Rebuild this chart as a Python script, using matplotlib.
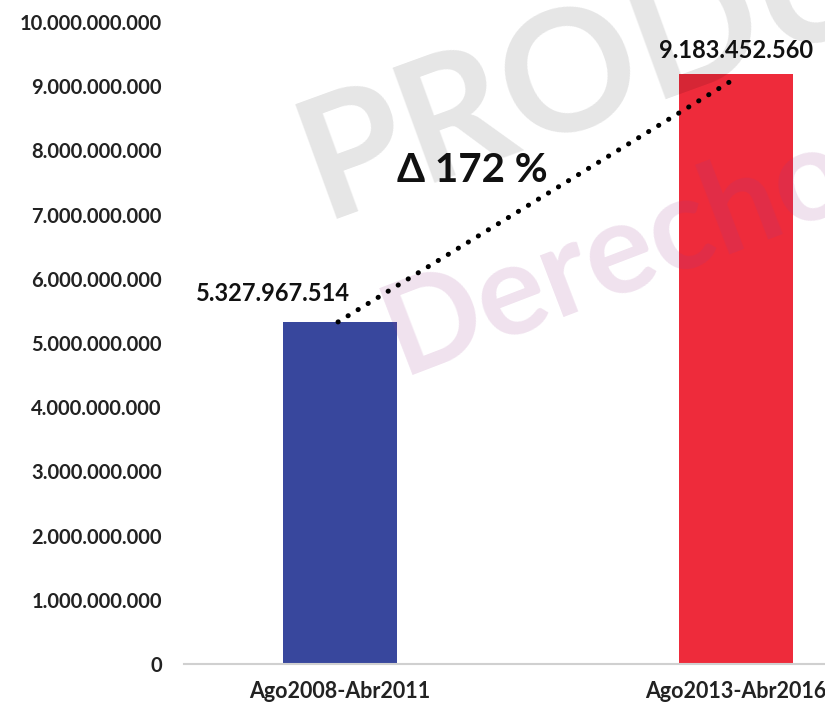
import matplotlib.pyplot as plt
from matplotlib.ticker import FuncFormatter, MultipleLocator

# data
periods = ['Ago2008-Abr2011', 'Ago2013-Abr2016']
values = [5327967514, 9183452560]
delta_label = 'Δ 172 %'
bar_colors = ['#38479d', '#ee2b3b']

plt.rcParams['font.family'] = ['Lato', 'DejaVu Sans']


def dots(v, pos=None):
    return f'{int(round(v)):,}'.replace(',', '.')


fig = plt.figure(figsize=(8.25, 7.08), dpi=100)
ax = fig.add_axes([184 / 825, 1 - 664 / 708, (825 - 184) / 825, (664 - 22) / 708])

x = list(range(len(periods)))
ax.bar(x, values, width=0.288, color=bar_colors, zorder=2)

ax.set_ylim(0, 10e9)
ax.set_xlim(-0.394, 1.225)
ax.yaxis.set_major_locator(MultipleLocator(1e9))
ax.yaxis.set_major_formatter(FuncFormatter(dots))
ax.set_xticks(x)
ax.set_xticklabels(periods, fontsize=15.5, fontweight='bold', color='#222222')
ax.tick_params(axis='y', length=0, labelsize=14.5, colors='#222222', pad=16)
ax.tick_params(axis='x', length=0, colors='#222222', pad=12)
for lab in ax.get_yticklabels():
    lab.set_fontweight('bold')
for s in ['top', 'right', 'left']:
    ax.spines[s].set_visible(False)
ax.spines['bottom'].set_color('#d0d0d0')
ax.spines['bottom'].set_linewidth(1.5)

# value labels
ax.text(x[0] - 0.17, values[0] + 0.45e9, dots(values[0]), ha='center', va='center',
        fontsize=17, fontweight='bold', color='#111111', zorder=6)
ax.text(x[1], values[1] + 0.38e9, dots(values[1]), ha='center', va='center',
        fontsize=17, fontweight='bold', color='#111111', zorder=6)

# dotted growth line
ax.plot([x[0] - 0.005, x[1] - 0.015], [values[0], 9.07e9], color='black',
        linestyle=(0, (0.05, 2.3)), linewidth=3.6, dash_capstyle='round', zorder=6)
ax.text(0.335, 7.68e9, delta_label, ha='center', va='center',
        fontsize=29, fontweight='bold', color='#111111', zorder=6)

# watermark (semi-transparent, over the bars)
ax.text(0.392, 0.690, 'PRODU', transform=fig.transFigure, fontsize=122,
        color='black', alpha=0.1, rotation=20, rotation_mode='anchor',
        ha='left', va='baseline', fontweight='bold', zorder=5)
ax.text(0.488, 0.470, 'Derecho', transform=fig.transFigure, fontsize=92,
        color='#9b3b8f', alpha=0.15, rotation=21, rotation_mode='anchor',
        ha='left', va='baseline', fontweight='bold', zorder=5)

fig.savefig('out.png', dpi=100)
